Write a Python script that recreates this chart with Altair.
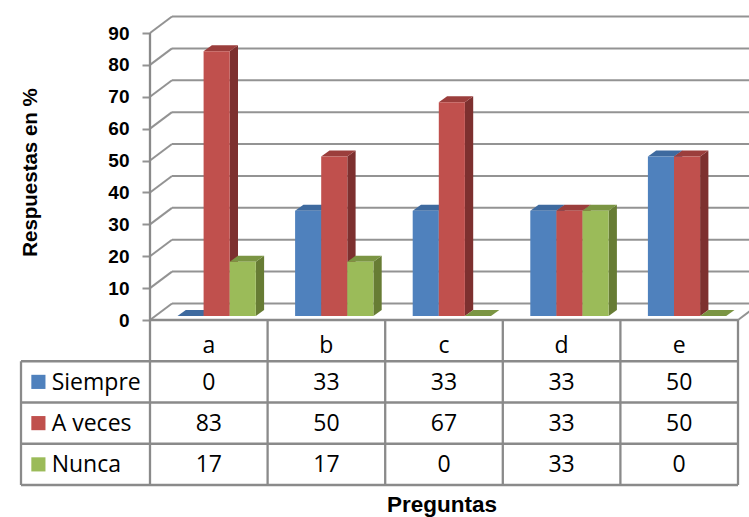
import altair as alt
import pandas as pd

# ---- data -------------------------------------------------------------
categories = ["a", "b", "c", "d", "e"]
series_names = ["Siempre", "A veces", "Nunca"]
siempre = [0, 33, 33, 33, 50]
a_veces = [83, 50, 67, 33, 50]
nunca = [17, 17, 0, 33, 0]
y_ticks = [0, 10, 20, 30, 40, 50, 60, 70, 80, 90]

front_colors = ["#4F81BD", "#C0504D", "#9BBB59"]
top_colors = ["#3E6A9F", "#9B3E3C", "#7B9543"]
side_colors = ["#375C89", "#7D302F", "#677C34"]

GRID = "#939393"
BORDER = "#8a8a8a"
LABEL_FONT = "Liberation Sans"
TABLE_FONT = "Open Sans"

# ---- layout (pixel sizes converted to data units) ----------------------
PLOT_LEFT = 150
PLOT_W, PLOT_H = 599, 517
CAT_PX = 117.6            # width of one category column
PCT_PX = 287 / 90         # pixels per percentage point
ZERO_PX = 320             # page y of the value 0


def ux(px):
    return px / CAT_PX


def uy(px):
    return px / PCT_PX


N = len(categories)
WALL_DX, WALL_DY = ux(22), uy(16.5)      # depth of the back wall
GROUP_OFF = ux(27.5)                     # start of a bar group in its column
BAR_W = ux(26.1)
BAR_DX, BAR_DY = ux(8.3), uy(6)          # bar depth
BAR_BASE = uy(4)                         # bars stand a little behind the front edge
ROW_H = uy(41.25)                        # data-table row height
LEGEND_LEFT = ux(21 - PLOT_LEFT)
SWATCH_X = ux(38.4 - PLOT_LEFT)
LEGEND_TEXT_X = ux(51.7 - PLOT_LEFT)

x_scale = alt.Scale(domain=[0, PLOT_W / CAT_PX], nice=False, zero=False)
y_scale = alt.Scale(domain=[-(PLOT_H - ZERO_PX) / PCT_PX, ZERO_PX / PCT_PX],
                    nice=False, zero=False)

x_axis = alt.Axis(title="Preguntas", labels=False, ticks=False, domain=False,
                  grid=False, titleFont=LABEL_FONT, titleFontWeight="bold",
                  titleFontSize=22.5, titleColor="black", titleX=291.5,
                  titleY=-5.3, titleAlign="center", titleBaseline="alphabetic")
y_axis = alt.Axis(values=y_ticks, grid=False, domain=False, tickColor=GRID,
                  tickSize=8, tickWidth=2, labelFont=LABEL_FONT,
                  labelFontWeight="bold", labelFontSize=19, labelColor="black",
                  labelPadding=13, title="Respuestas en %", titleFont=LABEL_FONT,
                  titleFontWeight="bold", titleFontSize=20.5, titleColor="black",
                  titleX=-113.3, titleY=172, titleAngle=270, titleAlign="center",
                  titleBaseline="alphabetic")


def X(field="x"):
    return alt.X(f"{field}:Q", scale=x_scale, axis=x_axis)


def Y(field="y"):
    return alt.Y(f"{field}:Q", scale=y_scale, axis=y_axis, stack=None)


# ---- bars: front, side and top faces ----------------------------------
values = [siempre, a_veces, nunca]
front_rows, side_rows, top_rows = [], [], []
for ci, cat in enumerate(categories):
    for si, name in enumerate(series_names):
        v = values[si][ci]
        bid = f"{cat}-{si}"
        xl = ci + GROUP_OFF + si * BAR_W
        xr = xl + BAR_W
        y0, y1 = BAR_BASE, BAR_BASE + v
        front_rows.append(dict(id=bid, x=xl, x2=xr, y=y1, y2=y0, c=front_colors[si]))
        side_rows += [
            dict(id=bid, x=xr, y=y1, y2=y0, c=side_colors[si]),
            dict(id=bid, x=xr + BAR_DX, y=y1 + BAR_DY, y2=y0 + BAR_DY, c=side_colors[si]),
        ]
        top_rows += [
            dict(id=bid, x=xl, y=y1, y2=y1, c=top_colors[si]),
            dict(id=bid, x=xl + BAR_DX, y=y1 + BAR_DY, y2=y1, c=top_colors[si]),
            dict(id=bid, x=xr, y=y1 + BAR_DY, y2=y1, c=top_colors[si]),
            dict(id=bid, x=xr + BAR_DX, y=y1 + BAR_DY, y2=y1 + BAR_DY, c=top_colors[si]),
        ]

front_df = pd.DataFrame(front_rows)
side_df = pd.DataFrame(side_rows)
top_df = pd.DataFrame(top_rows)

# ---- walls, floor and gridlines ---------------------------------------
grid_rows = []
for t in y_ticks:
    grid_rows.append(dict(x=0, y=t, x2=WALL_DX, y2=t + WALL_DY))
    grid_rows.append(dict(x=WALL_DX, y=t + WALL_DY, x2=N + WALL_DX, y2=t + WALL_DY))
grid_rows.append(dict(x=N, y=0, x2=N + WALL_DX, y2=WALL_DY))
grid_df = pd.DataFrame(grid_rows)

# ---- data table borders -----------------------------------------------
n_rows = len(series_names) + 1
border_rows = [dict(x=0, y=max(y_ticks), x2=0, y2=-n_rows * ROW_H),
               dict(x=0, y=0, x2=N, y2=0),
               dict(x=LEGEND_LEFT, y=-ROW_H, x2=LEGEND_LEFT, y2=-n_rows * ROW_H)]
for k in range(1, n_rows + 1):
    border_rows.append(dict(x=LEGEND_LEFT, y=-k * ROW_H, x2=N, y2=-k * ROW_H))
for j in range(1, N + 1):
    border_rows.append(dict(x=j, y=0, x2=j, y2=-n_rows * ROW_H))
border_df = pd.DataFrame(border_rows)

header_df = pd.DataFrame(dict(x=[i + 0.5 for i in range(N)],
                              y=[-0.5 * ROW_H] * N, label=categories))
cell_rows = []
for si, name in enumerate(series_names):
    for ci in range(N):
        cell_rows.append(dict(x=ci + 0.5, y=-(si + 1.5) * ROW_H,
                              label=str(values[si][ci])))
cell_df = pd.DataFrame(cell_rows)
legend_df = pd.DataFrame(dict(
    name=series_names, c=front_colors,
    y=[-(si + 1.5) * ROW_H for si in range(len(series_names))],
    sx=[SWATCH_X] * len(series_names), tx=[LEGEND_TEXT_X] * len(series_names)))

# ---- layers -----------------------------------------------------------
grid = alt.Chart(grid_df).mark_rule(color=GRID, strokeWidth=2).encode(
    x=X(), y=Y(), x2="x2:Q", y2="y2:Q")

sides = alt.Chart(side_df).mark_area(orient="vertical").encode(
    x=X(), y=Y(), y2="y2:Q", detail="id:N", color=alt.Color("c:N", scale=None))

tops = alt.Chart(top_df).mark_area(orient="vertical").encode(
    x=X(), y=Y(), y2="y2:Q", detail="id:N", color=alt.Color("c:N", scale=None))

fronts = alt.Chart(front_df).mark_rect().encode(
    x=X(), x2="x2:Q", y=Y(), y2="y2:Q", color=alt.Color("c:N", scale=None))

borders = alt.Chart(border_df).mark_rule(color=BORDER, strokeWidth=2.3).encode(
    x=X(), y=Y(), x2="x2:Q", y2="y2:Q")

headers = alt.Chart(header_df).mark_text(
    font=TABLE_FONT, fontSize=23, color="black", baseline="alphabetic", dy=12.2
).encode(x=X(), y=Y(), text="label:N")

cells = alt.Chart(cell_df).mark_text(
    font=TABLE_FONT, fontSize=23, color="black", baseline="alphabetic", dy=7.8
).encode(x=X(), y=Y(), text="label:N")

swatches = alt.Chart(legend_df).mark_square(size=200, opacity=1).encode(
    x=X("sx"), y=Y(), color=alt.Color("c:N", scale=None))

legend_text = alt.Chart(legend_df).mark_text(
    font=TABLE_FONT, fontSize=23, color="black", align="left",
    baseline="alphabetic", dy=7.8
).encode(x=X("tx"), y=Y(), text="name:N")

chart = alt.layer(
    grid, sides, tops, fronts, borders, headers, cells, swatches, legend_text
).properties(
    width=PLOT_W, height=PLOT_H,
    padding={"left": PLOT_LEFT, "top": 0, "right": 0, "bottom": 0},
    autosize=alt.AutoSizeParams(type="none"),
    background="white",
).configure_view(stroke=None)

chart.save("out.html", embed_options={"renderer": "svg", "actions": False})
